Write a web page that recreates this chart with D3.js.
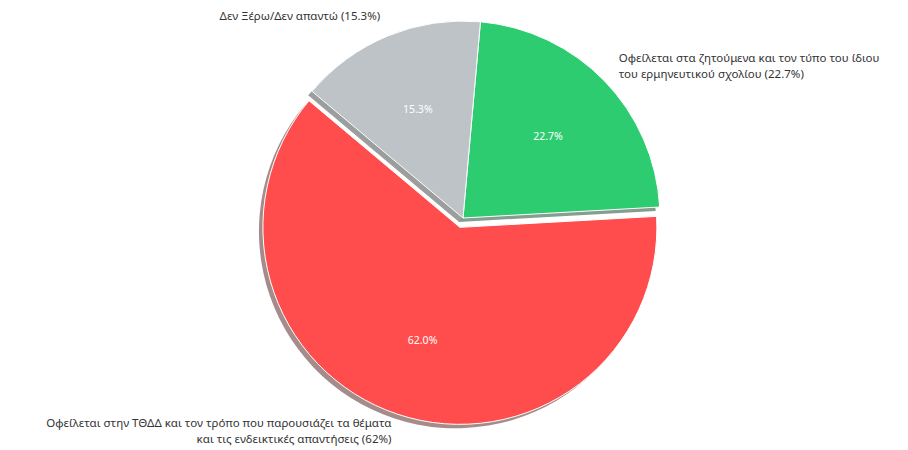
<!DOCTYPE html>
<html>
<head>
<meta charset="utf-8">
<script src="https://cdn.jsdelivr.net/npm/d3@7"></script>
<style>
  html, body { margin: 0; padding: 0; background: #ffffff; }
  svg { display: block; }
</style>
</head>
<body>
<svg id="chart" width="908" height="450"></svg>
<script>
// Survey answers: where the difficulty comes from
const categories = [
  "Οφείλεται στην ΤΘΔΔ και τον τρόπο που παρουσιάζει τα θέματα\nκαι τις ενδεικτικές απαντήσεις (62%)",
  "Οφείλεται στα ζητούμενα και τον τύπο του ίδιου\nτου ερμηνευτικού σχολίου (22.7%)",
  "Δεν Ξέρω/Δεν απαντώ (15.3%)"
];
const values = [62.0, 22.7, 15.3];
const pctLabels = ["62.0%", "22.7%", "15.3%"];
const colors = ["#ff4d4d", "#2ecc71", "#bdc3c7"];
const explode = [0.05, 0, 0];

const width = 908, height = 450;
const cx = 463, cy = 218, R = 197;
const startDeg = 140; // measured counter-clockwise from 3 o'clock

const svg = d3.select("#chart");

// d3 angles run clockwise from 12 o'clock; go counter-clockwise from the start
const a0 = (90 - startDeg) * Math.PI / 180;
const pie = d3.pie().sort(null).value(d => d).startAngle(a0).endAngle(a0 - 2 * Math.PI);
const arcs = pie(values);
const arc = d3.arc().innerRadius(0).outerRadius(R);

// radius scale: fractions of the pie radius to pixels
const rScale = d3.scaleLinear().domain([0, 1]).range([0, R]);

const data = arcs.map((a, i) => {
  const mid = (a.startAngle + a.endAngle) / 2;
  const ux = Math.sin(mid), uy = -Math.cos(mid);
  const off = rScale(explode[i]);
  return { a, i, ux, uy, ox: cx + ux * off, oy: cy + uy * off };
});

// shadows under every wedge
const shadowOff = rScale(0.02);
svg.append("g").selectAll("path").data(data).join("path")
  .attr("transform", d => `translate(${d.ox - shadowOff},${d.oy + shadowOff})`)
  .attr("d", d => arc(d.a))
  .attr("fill", d => {
    const c = d3.rgb(colors[d.i]);
    return d3.rgb(c.r * 0.3, c.g * 0.3, c.b * 0.3).toString();
  })
  .attr("fill-opacity", 0.5);

// wedges
svg.append("g").selectAll("path").data(data).join("path")
  .attr("transform", d => `translate(${d.ox},${d.oy})`)
  .attr("d", d => arc(d.a))
  .attr("fill", d => colors[d.i])
  .attr("stroke", "#ffffff")
  .attr("stroke-width", 1)
  .attr("stroke-linejoin", "round");

// percentages inside the wedges
svg.append("g").selectAll("text").data(data).join("text")
  .attr("x", d => d.ox + d.ux * rScale(0.6))
  .attr("y", d => d.oy + d.uy * rScale(0.6))
  .attr("text-anchor", "middle")
  .attr("dominant-baseline", "central")
  .attr("font-family", "Noto Sans, DejaVu Sans, sans-serif")
  .attr("font-size", 10.5)
  .attr("fill", "#ffffff")
  .text(d => pctLabels[d.i]);

// outer category labels
const lineH = 16;
const lbl = svg.append("g").selectAll("text").data(data).join("text")
  .attr("text-anchor", d => d.ux < 0 ? "end" : "start")
  .attr("font-family", "Noto Sans, DejaVu Sans, sans-serif")
  .attr("font-size", 11.5)
  .attr("fill", "#333333");

lbl.each(function(d) {
  const lines = categories[d.i].split("\n");
  const x = d.ox + d.ux * rScale(1.1);
  const y = d.oy + d.uy * rScale(1.1) - 2;
  const top = y - (lines.length - 1) * lineH / 2;
  d3.select(this).selectAll("tspan").data(lines).join("tspan")
    .attr("x", x)
    .attr("y", (l, k) => top + k * lineH)
    .attr("dominant-baseline", "central")
    .text(l => l);
});
</script>
</body>
</html>
